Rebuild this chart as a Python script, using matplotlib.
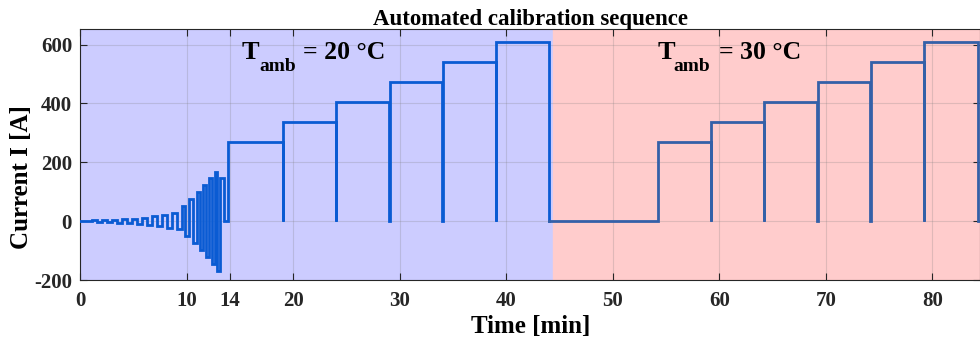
import numpy as np
import matplotlib.pyplot as plt

plt.rcParams['font.family'] = ['Liberation Serif', 'DejaVu Serif']
plt.rcParams['font.weight'] = 'bold'
plt.rcParams['axes.unicode_minus'] = False

# identification pulses: start of each positive half-cycle [min] and amplitude [A]
osc_t = [1.04, 1.98, 2.92, 3.86, 4.80, 5.74, 6.68, 7.62, 8.56, 9.50,
         10.22, 10.97, 11.53, 12.10, 12.63, 13.10]
osc_amp = [3, 4, 5, 7, 9, 12, 16, 22, 27, 50, 75, 98, 122, 145, 168, 145]
osc_end = 13.47

# calibration current steps at 20 degC
steps20_t = [13.9, 19.0, 24.0, 29.0, 34.0, 39.0]
steps20_i = [270, 337.5, 405, 472.5, 540, 607.5]
end20 = 44.0

# calibration current steps at 30 degC
steps30_t = [54.2, 59.2, 64.2, 69.2, 74.2, 79.2]
steps30_i = [270, 337.5, 405, 472.5, 540, 607.5]
end30 = 84.3

split_t = 44.4
x_max = 84.5
dip = 0.04


def step_series(t_start, levels, t_end):
    t, cur = [], []
    for k, (ts, lv) in enumerate(zip(t_start, levels)):
        if k > 0:
            t.append(ts)
            cur.append(0)
            ts = ts + dip
        t.append(ts)
        cur.append(lv)
    t.append(t_end)
    cur.append(0)
    return t, cur


# first part: pulses then 20 degC steps
t1, i1 = [0.0], [0.0]
for k in range(len(osc_t)):
    t1.append(osc_t[k])
    i1.append(osc_amp[k])
    if k < len(osc_t) - 1:
        t1.append((osc_t[k] + osc_t[k + 1]) / 2)
        i1.append(-osc_amp[k])
t1.append(osc_end)
i1.append(0)
ts, cs = step_series(steps20_t, steps20_i, end20)
t1 += ts
i1 += cs

# second part: 30 degC steps
t2, i2 = [end20], [0]
ts, cs = step_series(steps30_t, steps30_i, end30)
t2 += ts
i2 += cs
t2.append(x_max + 1)
i2.append(0)

fig = plt.figure(figsize=(9.8, 3.44), dpi=100)
ax = fig.add_axes([0.0821, 0.186, 0.918, 0.7297])

ax.axvspan(0, split_t, color='#ccccff', zorder=0)
ax.axvspan(split_t, x_max + 1, color='#ffcccc', zorder=0)

ax.plot(t1, i1, drawstyle='steps-post', color='#0a5bd3', lw=2.0,
        solid_joinstyle='miter', zorder=3)
ax.plot(t2, i2, drawstyle='steps-post', color='#3460a8', lw=2.0,
        solid_joinstyle='miter', zorder=3)

ax.set_xlim(0, x_max)
ax.set_ylim(-200, 653)
ax.set_xticks([0, 10, 14, 20, 30, 40, 50, 60, 70, 80])
ax.set_yticks([-200, 0, 200, 400, 600])
ax.tick_params(direction='in', top=True, right=True, length=5, width=0.8,
               labelsize=15, colors='#262626')
ax.tick_params(axis='x', pad=8)
ax.tick_params(axis='y', pad=6)
ax.grid(True, color='#808080', alpha=0.25, lw=0.8)
for s in ax.spines.values():
    s.set_color('#262626')
    s.set_linewidth(0.8)

ax.set_xlabel('Time [min]', fontsize=18, fontweight='bold', labelpad=3)
ax.set_ylabel('Current I [A]', fontsize=18, fontweight='bold')
ax.yaxis.set_label_coords(-0.053, 0.41)
ax.set_title('Automated calibration sequence', fontsize=16.5,
             fontweight='bold', pad=3)


def amb_label(x, txt, sub_dx, rest_dx):
    # "T" with a lowered "amb" subscript followed by the temperature
    ax.text(x, 550, 'T', fontsize=19, fontweight='bold', zorder=4)
    ax.annotate('amb', (x, 550), xytext=(sub_dx, -12),
                textcoords='offset pixels', fontsize=14, fontweight='bold',
                zorder=4)
    ax.annotate(txt, (x, 550), xytext=(rest_dx, 0),
                textcoords='offset pixels', fontsize=18.5, fontweight='bold',
                zorder=4)


amb_label(15.14, '= 20 °C', 18, 61)
amb_label(54.2, '= 30 °C', 16, 61)

fig.savefig('out.png', dpi=100)
